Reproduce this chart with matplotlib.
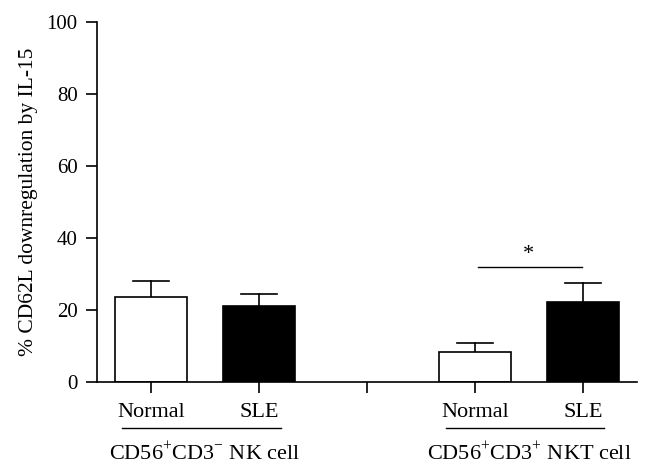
import matplotlib.pyplot as plt

# data
positions = [0, 1, 3, 4]
categories = ["Normal", "SLE", "Normal", "SLE"]
means = [23.6, 21.1, 8.3, 22.2]
errors = [4.5, 3.3, 2.5, 5.3]
colors = ["white", "black", "white", "black"]
groups = ["CD56$^{+}$CD3$^{-}$ NK cell", "CD56$^{+}$CD3$^{+}$ NKT cell"]
group_spans = [(0, 1), (3, 4)]
yticks = [0, 20, 40, 60, 80, 100]
sig_y = 31.9

plt.rcParams["font.family"] = ["Liberation Serif", "DejaVu Serif"]
plt.rcParams["mathtext.fontset"] = "custom"
plt.rcParams["mathtext.rm"] = "Liberation Serif"

fig = plt.figure(figsize=(6.52, 4.71), dpi=100)
ax = fig.add_axes([0.1488, 0.1896, 0.828, 0.7644])

lw = 1.2
ax.bar(positions, means, width=0.66, color=colors, edgecolor="black", linewidth=lw, zorder=2)
for x, m, e in zip(positions, means, errors):
    ax.plot([x, x], [m, m + e], color="black", lw=lw, zorder=1)
    ax.plot([x - 0.17, x + 0.17], [m + e, m + e], color="black", lw=lw, zorder=1)

ax.set_xlim(-0.5, 4.5)
ax.set_ylim(0, 100)
ax.set_yticks(yticks)
ax.set_xticks([0, 1, 2, 3, 4])
ax.set_xticklabels(["", "", "", "", ""])
ax.tick_params(axis="both", direction="out", length=8, width=lw, labelsize=15, pad=6)
for s in ["top", "right"]:
    ax.spines[s].set_visible(False)
for s in ["left", "bottom"]:
    ax.spines[s].set_linewidth(lw)
ax.set_ylabel("% CD62L downregulation by IL-15", fontsize=15.5, labelpad=6)

# category labels and group labels under the axis
for x, c in zip(positions, categories):
    ax.annotate(c, (x, 0), xytext=(0, -22), textcoords="offset points",
                ha="center", va="center", fontsize=16, annotation_clip=False)
for (x0, x1), g in zip(group_spans, groups):
    ax.plot([x0 - 0.27, x1 + 0.2], [-12.8, -12.8], color="black", lw=1.0, clip_on=False)
    ax.annotate(g, ((x0 + x1) / 2, 0), xytext=(0, -51.5), textcoords="offset points",
                ha="center", va="center", fontsize=16, annotation_clip=False)

# significance bar
ax.plot([3.03, 3.99], [sig_y, sig_y], color="black", lw=1.0)
ax.text(3.5, sig_y + 0.8, "*", ha="center", va="bottom", fontsize=16)

fig.savefig("out.png", dpi=100)
